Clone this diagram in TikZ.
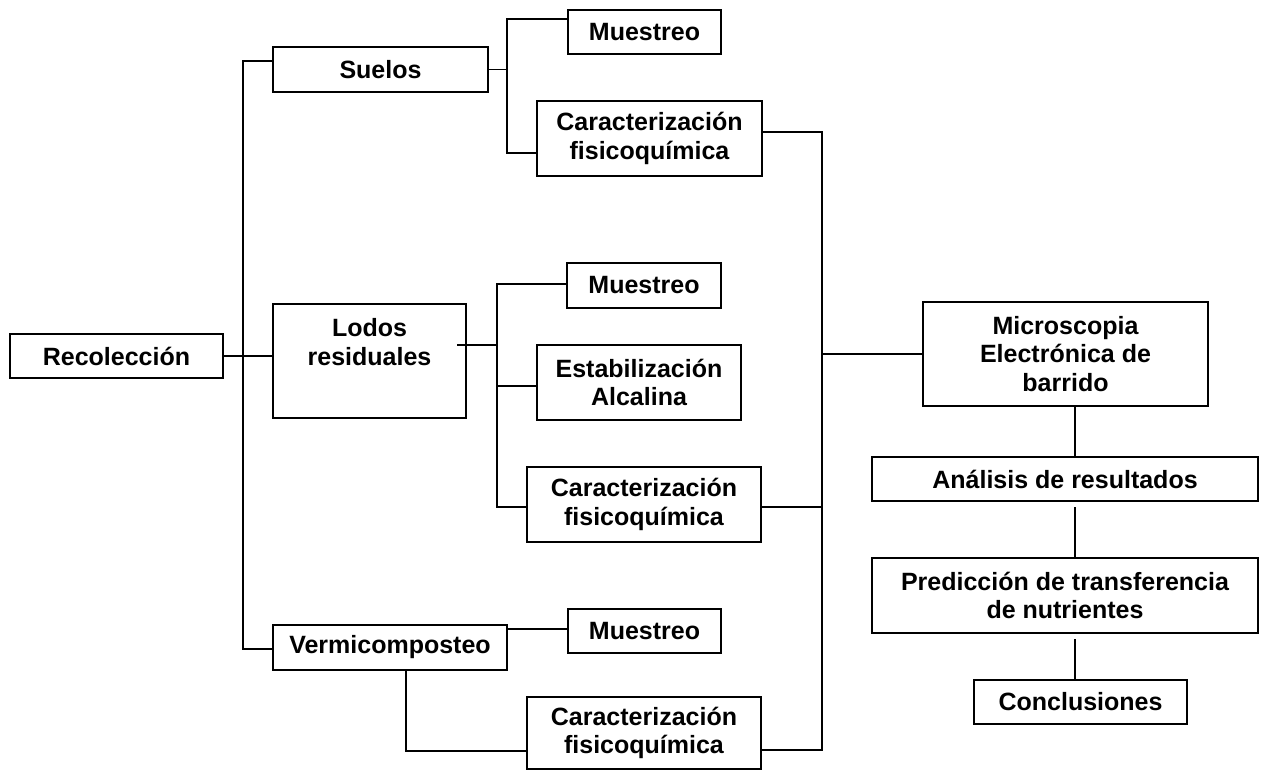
\documentclass[tikz,border=0pt]{standalone}
\usepackage{fontspec}
\setmainfont{Liberation Sans}
\begin{document}
\begin{tikzpicture}[x=1pt,y=-1pt,
  box/.style={draw=black,line width=2pt,rectangle,inner sep=0pt,align=center,
    font=\fontsize{25}{28.3}\selectfont\bfseries},
  txt/.style={inner sep=0pt,align=center,font=\fontsize{25}{28.3}\selectfont\bfseries},
  conn/.style={draw=black,line width=1.7pt}]
\useasboundingbox (0,0) rectangle (1264,771);
% nodes
\node[box,minimum width=213pt,minimum height=44pt] (rec) at (116.5,356) {Recolección};
\node[box,minimum width=215pt,minimum height=45pt] (suelos) at (380.5,69.5) {Suelos};
\node[box,minimum width=153pt,minimum height=44pt] (mue1) at (644.5,32) {Muestreo};
\node[box,minimum width=225pt,minimum height=75pt] (car1) at (649.5,138.5) {Caracterización\\fisicoquímica};
\node[box,minimum width=193pt,minimum height=114pt] (lodos) at (369.5,361) {};
\node[txt] (lodostxt) at (369.5,342) {Lodos\\residuales};
\node[box,minimum width=154pt,minimum height=45pt] (mue2) at (644,285.5) {Muestreo};
\node[box,minimum width=204pt,minimum height=75pt] (est) at (639,382.5) {Estabilización\\Alcalina};
\node[box,minimum width=234pt,minimum height=75pt] (car2) at (644,504.5) {Caracterización\\fisicoquímica};
\node[box,minimum width=234pt,minimum height=45pt] (vermi) at (390,647.5) {Vermicomposteo};
\node[box,minimum width=153pt,minimum height=44pt] (mue3) at (644.5,631) {Muestreo};
\node[box,minimum width=234pt,minimum height=72pt] (car3) at (644,733) {Caracterización\\fisicoquímica};
\node[box,minimum width=285pt,minimum height=104pt] (micro) at (1065.5,354) {Microscopia\\Electrónica de\\barrido};
\node[box,minimum width=386pt,minimum height=44pt] (ana) at (1065,479) {Análisis de resultados};
\node[box,minimum width=386pt,minimum height=75pt] (pred) at (1065,595.5) {Predicción de transferencia\\de nutrientes};
\node[box,minimum width=213pt,minimum height=44pt] (conc) at (1080.5,702) {Conclusiones};
% coordinates
\coordinate (tA) at (243,61);
\coordinate (tB) at (243,649);
\coordinate (sA) at (507,19);
\coordinate (sB) at (507,153);
\coordinate (lA) at (497,284);
\coordinate (lM) at (497,345);
\coordinate (lE) at (497,386);
\coordinate (lB) at (497,507);
\coordinate (cA) at (822,132);
\coordinate (cM) at (822,507);
\coordinate (cB) at (822,750);
\coordinate (vA) at (406,751);
\coordinate (vM) at (507,629);
\coordinate (mA) at (1075,406);
\coordinate (mB) at (1075,507);
\coordinate (mC) at (1075,639);
% main trunk
\draw[conn] (suelos.west |- tA) -- (tA) -- (tB) -- (vermi.west |- tB);
\draw[conn] (rec.east) -- (rec.east -| lodos.west);
% suelos branch
\draw[conn] (suelos.east) -- (suelos.east -| sA);
\draw[conn] (mue1.west |- sA) -- (sA) -- (sB) -- (car1.west |- sB);
% lodos branch
\draw[conn] ([xshift=-10pt]lodos.east |- lM) -- (lM);
\draw[conn] (mue2.west |- lA) -- (lA) -- (lB) -- (car2.west |- lB);
\draw[conn] (lE) -- (est.west |- lE);
% vermi branch
\draw[conn] (vM) -- (mue3.west |- vM);
\draw[conn] (vermi.south -| vA) -- (vA) -- (car3.west |- vA);
% collector
\draw[conn] (car1.east |- cA) -- (cA) -- (cB) -- (car3.east |- cB);
\draw[conn] (car2.east |- cM) -- (cM);
\draw[conn] (micro.west -| cA) -- (micro.west);
% right column
\draw[conn] (mA) -- (ana.north -| mA);
\draw[conn] (mB) -- (pred.north -| mB);
\draw[conn] (mC) -- (conc.north -| mC);
\end{tikzpicture}
\end{document}
